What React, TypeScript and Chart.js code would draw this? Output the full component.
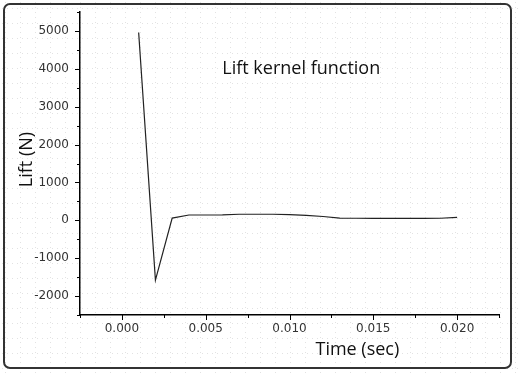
import React, { useEffect, useRef } from "react";
import { Chart, registerables } from "chart.js";

Chart.register(...registerables);

const timeSec = [0.001, 0.002, 0.003, 0.004, 0.005, 0.006, 0.007, 0.008, 0.009, 0.010, 0.011, 0.012, 0.013, 0.014, 0.015, 0.016, 0.017, 0.018, 0.019, 0.020];
const liftN = [4960, -1580, 60, 140, 140, 145, 160, 160, 160, 150, 130, 100, 60, 55, 50, 50, 50, 50, 55, 75];
const xTickMajor = 0.005;
const yTickMajor = 1000;
const chartTitle = "Lift kernel function";
const xTitle = "Time (sec)";
const yTitle = "Lift (N)";

const isMult = (v: number, m: number) => Math.abs(Math.round(v / m) * m - v) < 1e-9;

const decorPlugin = {
  id: "decor",
  beforeDraw(chart: any) {
    const { ctx, width, height } = chart;
    ctx.save();
    ctx.fillStyle = "#ffffff";
    ctx.fillRect(0, 0, width, height);
    ctx.fillStyle = "#e2e2e2";
    for (let x = 5; x < width; x += 15) {
      for (let y = 2; y < height; y += 5) ctx.fillRect(x, y, 1, 1);
    }
    for (let y = 8; y < height; y += 15) {
      for (let x = 2; x < width; x += 5) ctx.fillRect(x, y, 1, 1);
    }
    ctx.restore();
  },
  afterDraw(chart: any) {
    const { ctx, chartArea } = chart;
    const xs = chart.scales.x;
    const ys = chart.scales.y;
    ctx.save();
    ctx.strokeStyle = "#000";
    ctx.lineWidth = 1;
    ctx.beginPath();
    ys.ticks.forEach((t: any) => {
      const p = Math.round(ys.getPixelForValue(t.value)) + 0.5;
      const len = isMult(t.value, yTickMajor) ? 5 : 3;
      ctx.moveTo(chartArea.left - len, p);
      ctx.lineTo(chartArea.left, p);
    });
    xs.ticks.forEach((t: any) => {
      const p = Math.round(xs.getPixelForValue(t.value)) + 0.5;
      const len = isMult(t.value, xTickMajor) ? 5 : 3;
      ctx.moveTo(p, chartArea.bottom);
      ctx.lineTo(p, chartArea.bottom + len);
    });
    ctx.stroke();

    ctx.fillStyle = "#111";
    ctx.textAlign = "center";
    ctx.textBaseline = "middle";
    ctx.font = "18px 'Open Sans'";
    ctx.fillText(chartTitle, xs.getPixelForValue(0.0107), ys.getPixelForValue(4000));
    ctx.fillText(xTitle, xs.getPixelForValue(0.01405), chartArea.bottom + 35);
    ctx.translate(chartArea.left - 53, (chartArea.top + chartArea.bottom) / 2 - 4);
    ctx.rotate(-Math.PI / 2);
    ctx.font = "18px 'Open Sans'";
    ctx.fillText(yTitle, 0, 0);
    ctx.restore();
  },
};

const fmtX = (v: number) => {
  const r = Math.abs(v) < 1e-12 ? 0 : v;
  return r.toFixed(3);
};

export default function App() {
  const ref = useRef<HTMLCanvasElement>(null);
  useEffect(() => {
    document.body.style.margin = "0";
    const chart = new Chart(ref.current!, {
      type: "line",
      data: {
        datasets: [
          {
            data: timeSec.map((t, i) => ({ x: t, y: liftN[i] })),
            borderColor: "#222",
            borderWidth: 1.2,
            pointRadius: 0,
            tension: 0,
            fill: false,
          },
        ],
      },
      options: {
        responsive: false,
        animation: false,
        layout: { padding: { top: 12, right: 22, left: 0, bottom: 0 } },
        plugins: { legend: { display: false }, tooltip: { enabled: false } },
        scales: {
          x: {
            type: "linear",
            min: -0.0025,
            max: 0.0225,
            afterFit: (s: any) => { s.height = 59; s.paddingLeft = 0; s.paddingRight = 0; },
            border: { display: true, color: "#000", width: 1.5 },
            grid: { display: true, drawOnChartArea: false, drawTicks: false },
            ticks: {
              stepSize: 0.0025,
              padding: 7,
              color: "#333",
              font: { family: "'DejaVu Sans'", size: 12 },
              autoSkip: false,
              maxRotation: 0,
              callback: (v: any) => (isMult(Number(v), xTickMajor) ? fmtX(Number(v)) : ""),
            },
          },
          y: {
            type: "linear",
            min: -2500,
            max: 5500,
            afterFit: (s: any) => { s.width = 80; s.paddingTop = 0; s.paddingBottom = 0; },
            border: { display: true, color: "#000", width: 1.5 },
            grid: { display: true, drawOnChartArea: false, drawTicks: false },
            ticks: {
              stepSize: 500,
              padding: 11,
              color: "#333",
              font: { family: "'DejaVu Sans'", size: 12 },
              autoSkip: false,
              callback: (v: any) => (isMult(Number(v), yTickMajor) ? String(v) : ""),
            },
          },
        },
      },
      plugins: [decorPlugin],
    });
    return () => chart.destroy();
  }, []);
  return (
    <div style={{ position: "relative", width: 521, height: 374 }}>
      <canvas ref={ref} width={521} height={374} style={{ display: "block" }} />
      <div
        style={{
          position: "absolute",
          left: 3,
          top: 3,
          width: 505,
          height: 362,
          border: "2px solid #333",
          borderRadius: 7,
          pointerEvents: "none",
        }}
      />
    </div>
  );
}
